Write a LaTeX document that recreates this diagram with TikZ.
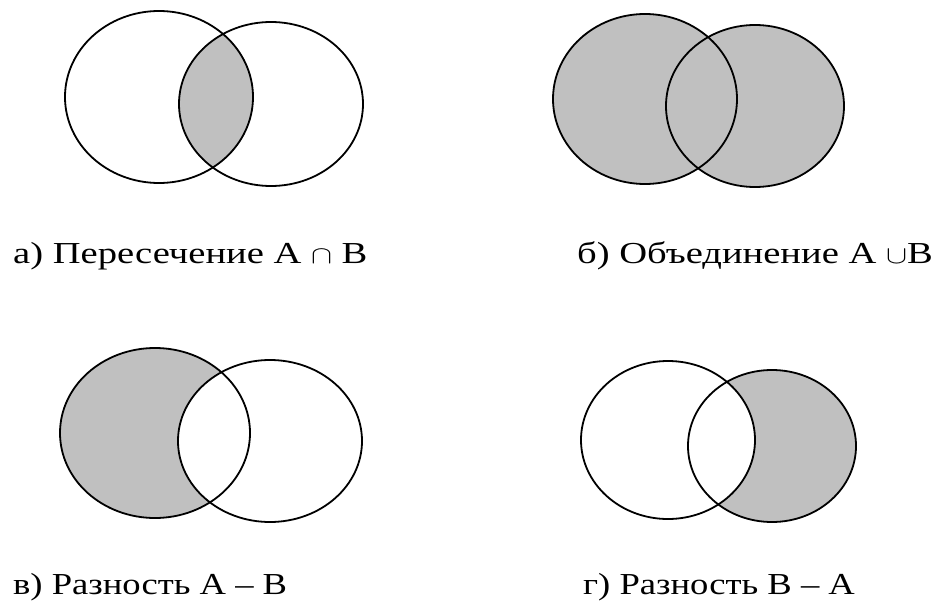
\documentclass[tikz,border=0pt]{standalone}
\usepackage{fontspec}
\usepackage{graphicx}
\setmainfont{Liberation Serif}
\definecolor{venngray}{RGB}{192,192,192}
\newcommand{\stretchlbl}[2]{\scalebox{#1}[1]{#2}}
\tikzset{
  venn/.style={draw=black, line width=1.8pt},
  vennfill/.style={fill=venngray},
  lbl/.style={anchor=base west, inner sep=0pt, font=\fontsize{30.5}{36}\selectfont}
}
\begin{document}
\begin{tikzpicture}[x=1pt,y=-1pt]
\useasboundingbox (0,0) rectangle (932,602);
% ---- a) intersection
\begin{scope}
  \clip (159,97) ellipse [x radius=94, y radius=86];
  \path[vennfill] (271,104) ellipse [x radius=92, y radius=82];
\end{scope}
\draw[venn] (159,97) ellipse [x radius=94, y radius=86];
\draw[venn] (271,104) ellipse [x radius=92, y radius=82];
% ---- b) union
\path[vennfill] (645,99) ellipse [x radius=92, y radius=85];
\path[vennfill] (755,106) ellipse [x radius=89, y radius=81];
\draw[venn] (645,99) ellipse [x radius=92, y radius=85];
\draw[venn] (755,106) ellipse [x radius=89, y radius=81];
% ---- c) A - B
\path[vennfill] (155,433) ellipse [x radius=95, y radius=85];
\fill[white] (270,441) ellipse [x radius=92, y radius=81];
\draw[venn] (155,433) ellipse [x radius=95, y radius=85];
\draw[venn] (270,441) ellipse [x radius=92, y radius=81];
% ---- d) B - A
\path[vennfill] (772,446) ellipse [x radius=84, y radius=76];
\fill[white] (668,440) ellipse [x radius=87, y radius=79];
\draw[venn] (668,440) ellipse [x radius=87, y radius=79];
\draw[venn] (772,446) ellipse [x radius=84, y radius=76];
% ---- labels
\node[lbl] (la) at (13,263) {\stretchlbl{1.265}{а) Пересечение A $\cap$ B}};
\node[lbl] (lb) at (577,263) {\stretchlbl{1.265}{б) Объединение A $\cup$B}};
\node[lbl] (lc) at (13,594) {\stretchlbl{1.2}{в) Разность A – B}};
\node[lbl] (ld) at (583,594) {\stretchlbl{1.2}{г) Разность B – A}};
\end{tikzpicture}
\end{document}
